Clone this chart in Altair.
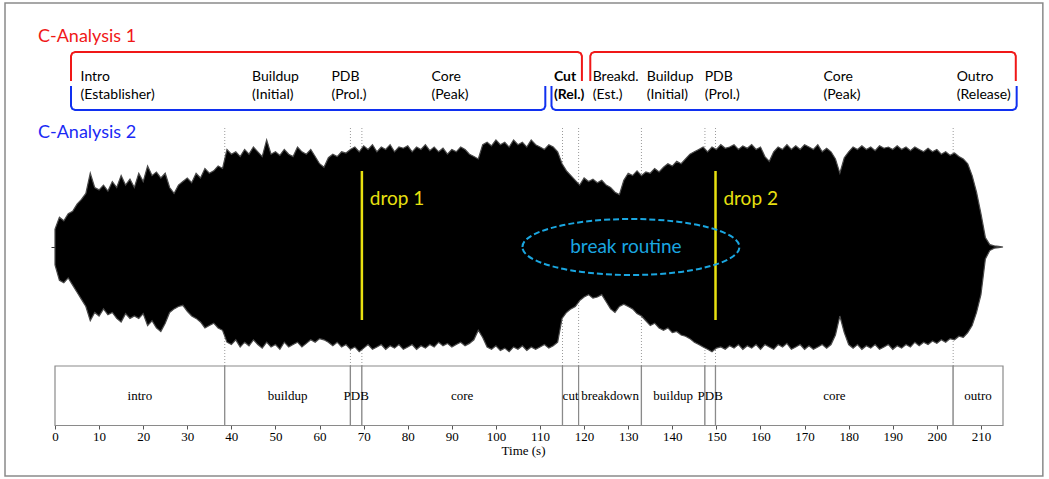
import altair as alt
import pandas as pd

# ---------------- data ----------------
# waveform envelope (amplitude, full scale = 1) sampled every second
wave_t = list(range(0, 216))
wave_upper = [
    0.15, 0.25, 0.22, 0.28, 0.30, 0.36, 0.40, 0.45, 0.62, 0.50,
    0.48, 0.52, 0.47, 0.55, 0.50, 0.60, 0.52, 0.57, 0.50, 0.62,
    0.55, 0.68, 0.60, 0.63, 0.58, 0.62, 0.50, 0.45, 0.52, 0.55,
    0.58, 0.54, 0.62, 0.58, 0.66, 0.62, 0.64, 0.68, 0.66, 0.82,
    0.78, 0.80, 0.76, 0.82, 0.78, 0.84, 0.80, 0.76, 0.90, 0.78,
    0.80, 0.77, 0.82, 0.78, 0.76, 0.84, 0.80, 0.78, 0.82, 0.76,
    0.70, 0.67, 0.75, 0.78, 0.76, 0.80, 0.79, 0.82, 0.84, 0.80,
    0.85, 0.82, 0.86, 0.80, 0.84, 0.82, 0.86, 0.80, 0.84, 0.83,
    0.85, 0.80, 0.84, 0.82, 0.86, 0.81, 0.84, 0.80, 0.83, 0.78,
    0.82, 0.80, 0.84, 0.82, 0.78, 0.76, 0.74, 0.86, 0.88, 0.85,
    0.90, 0.86, 0.88, 0.84, 0.90, 0.86, 0.88, 0.84, 0.90, 0.86,
    0.84, 0.82, 0.86, 0.84, 0.80, 0.70, 0.64, 0.60, 0.56, 0.52,
    0.58, 0.55, 0.57, 0.54, 0.56, 0.52, 0.50, 0.46, 0.44, 0.56,
    0.62, 0.60, 0.64, 0.60, 0.63, 0.62, 0.66, 0.63, 0.67, 0.70,
    0.68, 0.72, 0.70, 0.74, 0.78, 0.80, 0.82, 0.84, 0.80, 0.84,
    0.82, 0.86, 0.83, 0.84, 0.86, 0.82, 0.85, 0.83, 0.86, 0.82,
    0.84, 0.76, 0.72, 0.80, 0.84, 0.82, 0.86, 0.82, 0.85, 0.82,
    0.86, 0.84, 0.82, 0.86, 0.80, 0.83, 0.80, 0.74, 0.62, 0.75,
    0.80, 0.84, 0.82, 0.85, 0.82, 0.84, 0.81, 0.85, 0.83, 0.84,
    0.82, 0.85, 0.82, 0.84, 0.81, 0.84, 0.82, 0.80, 0.83, 0.80,
    0.82, 0.78, 0.80, 0.77, 0.79, 0.76, 0.74, 0.70, 0.60, 0.46,
    0.28, 0.08, 0.02, 0.01, 0.005, 0.0,
]
wave_lower = [
    0.15, 0.28, 0.30, 0.26, 0.32, 0.38, 0.44, 0.50, 0.62, 0.55,
    0.58, 0.52, 0.57, 0.55, 0.60, 0.63, 0.56, 0.60, 0.58, 0.60,
    0.56, 0.66, 0.62, 0.68, 0.71, 0.64, 0.55, 0.52, 0.50, 0.49,
    0.54, 0.58, 0.60, 0.63, 0.68, 0.66, 0.64, 0.68, 0.70, 0.80,
    0.82, 0.78, 0.84, 0.80, 0.83, 0.78, 0.82, 0.85, 0.80, 0.84,
    0.82, 0.86, 0.80, 0.84, 0.82, 0.80, 0.84, 0.81, 0.78, 0.80,
    0.77, 0.78, 0.80, 0.83, 0.80, 0.84, 0.82, 0.86, 0.84, 0.88,
    0.85, 0.82, 0.86, 0.84, 0.82, 0.86, 0.83, 0.85, 0.82, 0.86,
    0.84, 0.82, 0.86, 0.83, 0.85, 0.82, 0.84, 0.80, 0.83, 0.81,
    0.84, 0.82, 0.80, 0.83, 0.81, 0.78, 0.70, 0.76, 0.84, 0.86,
    0.83, 0.87, 0.85, 0.88, 0.84, 0.86, 0.83, 0.87, 0.84, 0.86,
    0.84, 0.82, 0.85, 0.83, 0.80, 0.60, 0.55, 0.52, 0.50, 0.45,
    0.42, 0.40, 0.43, 0.42, 0.40, 0.46, 0.52, 0.55, 0.50, 0.48,
    0.50, 0.52, 0.56, 0.58, 0.62, 0.66, 0.64, 0.68, 0.70, 0.68,
    0.72, 0.71, 0.74, 0.75, 0.77, 0.80, 0.82, 0.84, 0.86, 0.88,
    0.85, 0.84, 0.86, 0.83, 0.85, 0.82, 0.86, 0.83, 0.85, 0.82,
    0.86, 0.82, 0.84, 0.86, 0.82, 0.84, 0.81, 0.86, 0.84, 0.82,
    0.86, 0.83, 0.86, 0.84, 0.82, 0.85, 0.82, 0.74, 0.58, 0.72,
    0.82, 0.85, 0.82, 0.86, 0.83, 0.85, 0.82, 0.86, 0.84, 0.82,
    0.86, 0.83, 0.85, 0.82, 0.84, 0.80, 0.83, 0.80, 0.82, 0.79,
    0.81, 0.78, 0.80, 0.77, 0.78, 0.75, 0.76, 0.72, 0.66, 0.55,
    0.40, 0.10, 0.03, 0.01, 0.005, 0.0,
]

# structural segments (s)
seg_bounds = [0, 38.5, 67.0, 69.6, 115.1, 118.75, 133.0, 147.4, 149.8, 203.7, 215.0]
seg_labels = ["intro", "buildup", "PDB", "core", "cut", "breakdown",
              "buildup", "PDB", "core", "outro"]
tick_values = list(range(0, 211, 10))

# drops
drop_times = [69.6, 149.8]
drop_labels = ["drop 1", "drop 2"]

# C-Analysis labels (left edge, in seconds on the time axis)
ca_x = [5.8, 44.7, 62.7, 85.4, 113.15, 121.95, 134.2, 147.35, 174.3, 204.5]
ca_row1 = ["Intro", "Buildup", "PDB", "Core", "Cut", "Breakd.", "Buildup", "PDB", "Core", "Outro"]
ca_row2 = ["(Establisher)", "(Initial)", "(Prol.)", "(Peak)", "(Rel.)", "(Est.)",
           "(Initial)", "(Prol.)", "(Peak)", "(Release)"]
ca_bold = [False, False, False, False, True, False, False, False, False, False]

# brackets (seconds on time axis; vertical in layout px)
br_start = [3.63, 121.4, 3.63, 112.6]
br_end = [119.5, 217.9, 111.2, 218.1]
br_line = [52, 52, 110, 110]
br_tip = [81, 81, 86, 86]
br_color = ["#f01818", "#f01818", "#1030f0", "#1030f0"]

titles = ["C-Analysis 1", "C-Analysis 2"]
titles_color = ["#f01818", "#1a2af5"]

# ---------------- layout helpers ----------------
PX_PER_S = 4.41
FONT = "Lato"
SERIF = "Liberation Serif"

xscale = alt.Scale(domain=[0, 215], nice=False, zero=False)
xaxis = alt.Axis(values=tick_values, title="Time (s)", domain=False, grid=False,
                 tickColor="#555", tickSize=4, tickWidth=1,
                 labelFont=SERIF, labelFontSize=13, labelColor="black", labelPadding=1,
                 labelFlush=False, titleFont=SERIF, titleFontSize=13,
                 titleFontWeight="normal", titleColor="black", titlePadding=1,
                 titleX=468)
pxscale = alt.Scale(domain=[0, 425], reverse=True, nice=False, zero=False)


def X(field):
    return alt.X(field, type="quantitative", scale=xscale, axis=xaxis)


def Ypx(field):
    return alt.Y(field, type="quantitative", scale=pxscale, axis=None)


def t_of(px):
    return (px - 55) / PX_PER_S


# ---------------- tables ----------------
wave = pd.DataFrame({"t": wave_t, "up": wave_upper,
                     "lo": [-v for v in wave_lower]})
segs = pd.DataFrame({"x0": seg_bounds[:-1], "x1": seg_bounds[1:], "label": seg_labels})
segs["mid"] = (segs["x0"] + segs["x1"]) / 2
segs["y0"] = 366
segs["y1"] = 425.5
segs["ym"] = 396
bounds = pd.DataFrame({"t": seg_bounds[1:-1], "ya": 128, "yb": 366})

drops = pd.DataFrame({"t": drop_times, "label": drop_labels, "ya": 171, "yb": 320,
                      "ty": 199})
drops["tx"] = drops["t"] + 1.8

ell = pd.DataFrame({"t": [t_of(631)], "y": [247]})
brk = pd.DataFrame({"t": [t_of(626)], "y": [247], "label": ["break routine"]})

frame = pd.DataFrame({"x0": [t_of(5)], "x1": [t_of(1043)], "y0": [3], "y1": [476]})

rows = []
r = 4 / PX_PER_S
for i, (a, b, ly, ty, c) in enumerate(zip(br_start, br_end, br_line, br_tip, br_color)):
    d = 1 if ty > ly else -1
    pts = [(a, ty), (a, ly + d * 4), (a + 0.3 * r, ly + d * 1.2), (a + r, ly),
           (b - r, ly), (b - 0.3 * r, ly + d * 1.2), (b, ly + d * 4), (b, ty)]
    for k, (px_, py_) in enumerate(pts):
        rows.append({"id": i, "k": k, "t": px_, "y": py_, "c": c})
brackets = pd.DataFrame(rows)

tit = pd.DataFrame({"t": [t_of(38), t_of(38)], "y": [42, 138],
                    "label": titles, "c": titles_color})

lab = pd.DataFrame({"t": ca_x + ca_x, "label": ca_row1 + ca_row2,
                    "y": [81] * len(ca_x) + [99] * len(ca_x),
                    "bold": ca_bold + ca_bold})

# ---------------- layers ----------------
border = alt.Chart(frame).mark_rect(fill=None, stroke="#8a8a8a", strokeWidth=1.5).encode(
    x=X("x0"), x2="x1", y=Ypx("y0"), y2="y1")

dotted = alt.Chart(bounds).mark_rule(color="#9a9a9a", strokeWidth=1,
                                     strokeDash=[1, 2]).encode(
    x=X("t"), y=Ypx("ya"), y2="yb")

wscale = alt.Scale(domain=[-1.4958, 2.0756], nice=False, zero=False)
waveform = alt.Chart(wave).mark_area(color="black", stroke="#4a4a4a",
                                     strokeWidth=1.2, interpolate="linear").encode(
    x=X("t"),
    y=alt.Y("up:Q", scale=wscale,
            axis=alt.Axis(values=[0], labels=False, domain=False, grid=False,
                          ticks=True, tickSize=4, tickColor="#333", title=None)),
    y2="lo")

boxes = alt.Chart(segs).mark_rect(fill="white", stroke="#8a8a8a", strokeWidth=1.2).encode(
    x=X("x0"), x2="x1", y=Ypx("y0"), y2="y1")

seg_text = alt.Chart(segs).mark_text(font=SERIF, fontSize=13, color="black",
                                     baseline="middle", align="center").encode(
    x=X("mid"), y=Ypx("ym"), text="label")

yellow = alt.Chart(drops).mark_rule(color="#e8e010", strokeWidth=2.5).encode(
    x=X("t"), y=Ypx("ya"), y2="yb")

drop_text = alt.Chart(drops).mark_text(font=FONT, fontSize=19, color="#e8e010",
                                       align="left", baseline="middle").encode(
    x=X("tx"), y=Ypx("ty"), text="label")

ellipse = alt.Chart(ell).mark_point(
    shape="M -1 0 A 1 0.258 0 1 1 1 0 A 1 0.258 0 1 1 -1 0 Z",
    size=217 ** 2, filled=False, stroke="#1aa6e0", strokeWidth=2,
    strokeDash=[6, 3], opacity=1).encode(x=X("t"), y=Ypx("y"))

brk_text = alt.Chart(brk).mark_text(font=FONT, fontSize=19, color="#1aa6e0",
                                    align="center", baseline="middle").encode(
    x=X("t"), y=Ypx("y"), text="label")

br_lines = alt.Chart(brackets).mark_line(strokeWidth=2, interpolate="linear").encode(
    x=X("t"), y=Ypx("y"), detail="id:N", order="k:Q",
    color=alt.Color("c:N", scale=None))

title_text = alt.Chart(tit).mark_text(font=FONT, fontSize=18, align="left",
                                      baseline="alphabetic").encode(
    x=X("t"), y=Ypx("y"), text="label", color=alt.Color("c:N", scale=None))

lab_norm = alt.Chart(lab).transform_filter("!datum.bold").mark_text(
    font=FONT, fontSize=14, align="left", baseline="alphabetic", color="black").encode(
    x=X("t"), y=Ypx("y"), text="label")
lab_bold = alt.Chart(lab).transform_filter("datum.bold").mark_text(
    font=FONT, fontSize=14, fontWeight="bold", align="left", baseline="alphabetic",
    color="black").encode(x=X("t"), y=Ypx("y"), text="label")

chart = alt.layer(
    border, dotted, waveform, boxes, seg_text, yellow, drop_text, ellipse, brk_text,
    br_lines, title_text, lab_norm, lab_bold,
).resolve_scale(y="independent").properties(
    width=948, height=425,
    padding={"left": 55, "top": 0, "right": 46, "bottom": 54},
    autosize="none", background="white",
).configure_view(stroke=None)

chart.save("out.html", embed_options={"renderer": "svg", "actions": False})
